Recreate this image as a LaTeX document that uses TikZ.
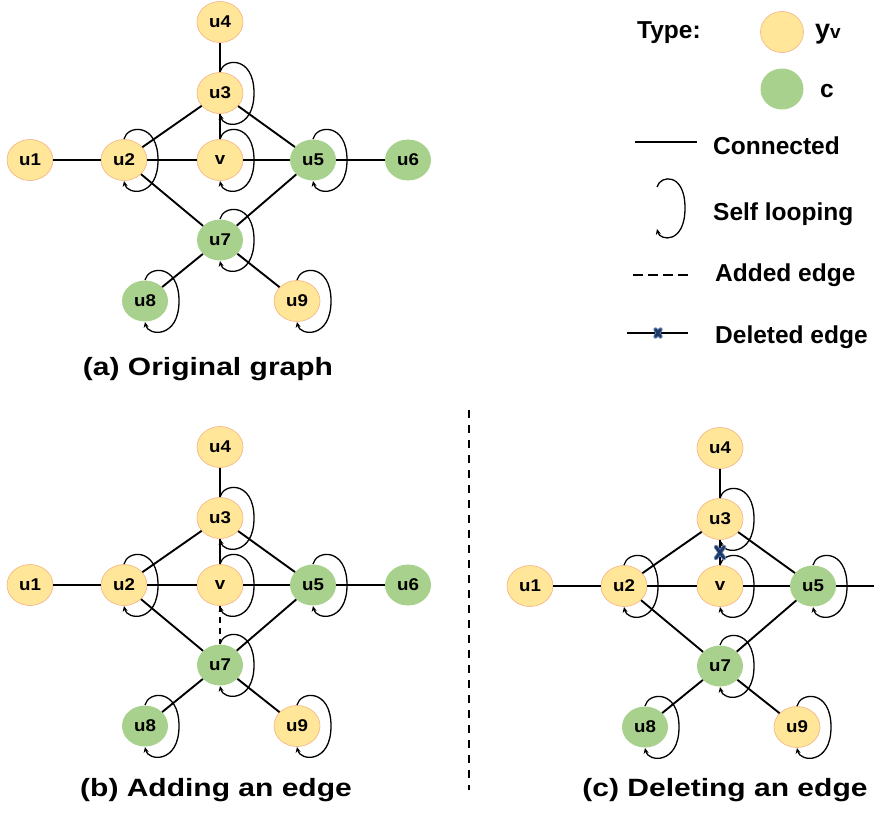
\documentclass[tikz,border=0pt]{standalone}
\usepackage{fontspec}
\setmainfont{Liberation Sans}
\newfontfamily\nodefont{Liberation Sans}[FakeStretch=1.1]
\newfontfamily\capfont{Liberation Sans}[FakeStretch=1.2]
\usetikzlibrary{shapes.geometric,arrows.meta,calc}
\definecolor{ynode}{HTML}{FFE699}
\definecolor{yborder}{HTML}{F4B183}
\definecolor{gnode}{HTML}{A9D18E}
\definecolor{xmarkdark}{HTML}{1F3A68}
\definecolor{xmarklight}{HTML}{6F8FC0}
\tikzset{
 gnodebase/.style={ellipse, minimum width=46pt, minimum height=41pt, inner sep=0pt,
   font=\nodefont\bfseries\fontsize{17}{18}\selectfont},
 ynd/.style={gnodebase, fill=ynode, draw=yborder, line width=0.6pt},
 gnd/.style={gnodebase, fill=gnode},
 edgeln/.style={line width=1.9pt},
 addln/.style={line width=1.8pt, dash pattern=on 6pt off 5pt},
 loopln/.style={line width=1.3pt, -{Stealth[length=5.5pt,width=5pt]}},
 lbl/.style={anchor=base west, inner sep=0pt, font=\bfseries\fontsize{24.5}{26}\selectfont},
 captext/.style={anchor=base, inner sep=0pt, font=\capfont\bfseries\fontsize{25}{26}\selectfont},
 xline/.style={line width=#1, line cap=round},
}
\newcommand\selfloopat[1]{%
 \draw[loopln] ([shift={(0,-21)}]#1.center) .. controls +(3,-14) and +(0,-38) ..
   ([shift={(34,0)}]#1.center) .. controls +(0,38) and +(3,14) .. ([shift={(0,21)}]#1.center);}
\newcommand\crossmark[3]{% coordinate, half width, half height
 \draw[xline=4.4pt, xmarklight] ([shift={(-#2,-#3)}]#1) -- ([shift={(#2,#3)}]#1);
 \draw[xline=4.4pt, xmarklight] ([shift={(-#2,#3)}]#1) -- ([shift={(#2,-#3)}]#1);
 \draw[xline=2.8pt, xmarkdark] ([shift={(-#2,-#3)}]#1) -- ([shift={(#2,#3)}]#1);
 \draw[xline=2.8pt, xmarkdark] ([shift={(-#2,#3)}]#1) -- ([shift={(#2,-#3)}]#1);}
\newcommand\graphpanel[1]{%
 \node[ynd] (#1u4) at (220,22) {u4};
 \node[ynd] (#1u3) at (220,93) {u3};
 \node[ynd] (#1u1) at (30,160) {u1};
 \node[ynd] (#1u2) at (124,160) {u2};
 \node[ynd] (#1v) at (220,160) {v};
 \node[gnd] (#1u5) at (313,160) {u5};
 \node[gnd] (#1u7) at (220,240) {u7};
 \node[gnd] (#1u8) at (145,301) {u8};
 \node[ynd] (#1u9) at (297,301) {u9};
 \draw[edgeln] (#1u4) -- (#1u3);
 \draw[edgeln] (#1u3) -- (#1u2);
 \draw[edgeln] (#1u3) -- (#1v);
 \draw[edgeln] (#1u3) -- (#1u5);
 \draw[edgeln] (#1u1) -- (#1u2);
 \draw[edgeln] (#1u2) -- (#1v);
 \draw[edgeln] (#1v) -- (#1u5);
 \draw[edgeln] (#1u2) -- (#1u7);
 \draw[edgeln] (#1u5) -- (#1u7);
 \draw[edgeln] (#1u7) -- (#1u8);
 \draw[edgeln] (#1u7) -- (#1u9);
 \selfloopat{#1u3}
 \selfloopat{#1v}
 \selfloopat{#1u2}
 \selfloopat{#1u5}
 \selfloopat{#1u7}
 \selfloopat{#1u8}
 \selfloopat{#1u9}
}
\begin{document}
\begin{tikzpicture}[x=1pt,y=-1pt]
\useasboundingbox (0,0) rectangle (874,812);
% panel (a)
\begin{scope}
 \graphpanel{a}
 \node[gnd] (au6) at (408,160) {u6};
 \draw[edgeln] (au5) -- (au6);
\end{scope}
\node[captext] (capa) at (208,375) {(a) Original graph};
% panel (b)
\begin{scope}[shift={(0,425)}]
 \graphpanel{b}
 \node[gnd] (bu6) at (408,160) {u6};
 \draw[edgeln] (bu5) -- (bu6);
 \draw[addln] (bv) -- (bu7);
\end{scope}
\node[captext] (capb) at (216,796) {(b) Adding an edge};
% panel (c)
\begin{scope}[shift={(500,426)}]
 \graphpanel{c}
 \coordinate (cedge) at (374,160);
 \draw[edgeln] (cu5) -- (cedge);
 \coordinate (cxm) at ($(cu3.south)!0.5!(cv.north)$);
 \crossmark{cxm}{4}{5.5}
\end{scope}
\node[captext] (capc) at (725,796) {(c) Deleting an edge};
% divider
\coordinate (div1) at (469,410);
\coordinate (div2) at (469,790);
\draw[line width=2pt, dash pattern=on 8pt off 7pt] (div1) -- (div2);
% legend
\node[lbl] (typ) at (637,38) {Type:};
\node[ellipse, minimum width=43pt, minimum height=41pt, fill=ynode, draw=yborder, line width=0.6pt] (ly) at (782,32) {};
\node[lbl] (lyt) at (815,38) {\fontsize{27}{28}\selectfont y{\fontsize{19}{20}\selectfont v}};
\node[ellipse, minimum width=43pt, minimum height=41pt, fill=gnode] (lg) at (782,89) {};
\node[lbl] (lgt) at (820,97) {c};
\coordinate (lc1) at (635,142);
\coordinate (lc2) at (697,142);
\draw[edgeln] (lc1) -- (lc2);
\node[lbl] (lct) at (713,154) {Connected};
\coordinate (ls) at (657,208);
\draw[loopln] ([shift={(0,-21)}]ls) .. controls +(3,-12) and +(0,-36) ..
   ([shift={(28,0)}]ls) .. controls +(0,36) and +(3,12) .. ([shift={(0,21)}]ls);
\node[lbl] (lst) at (713,220) {Self looping};
\coordinate (la1) at (633,275);
\coordinate (la2) at (689,275);
\draw[line width=1.8pt, dash pattern=on 9.5pt off 5.5pt] (la1) -- (la2);
\node[lbl] (lat) at (715,281) {Added edge};
\coordinate (ld1) at (627,333);
\coordinate (ld2) at (688,333);
\coordinate (ldx) at (658,333);
\draw[edgeln] (ld1) -- (ld2);
\crossmark{ldx}{2.5}{3.5}
\node[lbl] (ldt) at (715,343) {Deleted edge};
\end{tikzpicture}
\end{document}
